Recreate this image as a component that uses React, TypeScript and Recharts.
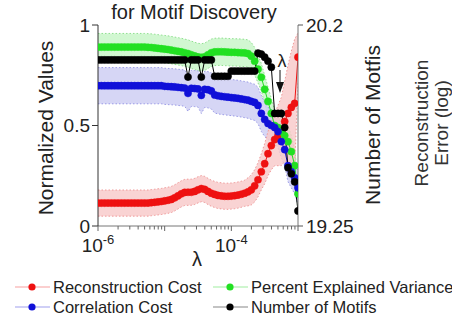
import React from 'react';
import { ComposedChart, Line, Area, XAxis, YAxis } from 'recharts';

// log10(lambda)
const lambdaExp = [
  -6.0, -5.95, -5.9, -5.85, -5.8, -5.75, -5.7, -5.65, -5.6, -5.55,
  -5.5, -5.45, -5.4, -5.35, -5.3, -5.25, -5.2, -5.15, -5.1, -5.05,
  -5.0, -4.95, -4.9, -4.85, -4.8, -4.75, -4.7, -4.65, -4.6, -4.55,
  -4.5, -4.45, -4.4, -4.35, -4.3, -4.25, -4.2, -4.15, -4.1, -4.05,
  -4.0, -3.95, -3.9, -3.85, -3.8, -3.75, -3.7, -3.65, -3.6, -3.55,
  -3.5, -3.45, -3.4, -3.35, -3.3, -3.25, -3.2, -3.15, -3.1, -3.05,
  -3.0,
];

const reconstructionCost = [
  0.114, 0.114, 0.114, 0.114, 0.114, 0.114, 0.114, 0.114, 0.114, 0.114,
  0.114, 0.114, 0.114, 0.114, 0.114, 0.114, 0.116, 0.118, 0.12, 0.122,
  0.125, 0.128, 0.132, 0.14, 0.15, 0.16, 0.167, 0.168, 0.168, 0.172,
  0.18, 0.186, 0.182, 0.172, 0.163, 0.157, 0.152, 0.15, 0.148, 0.148,
  0.149, 0.151, 0.154, 0.158, 0.163, 0.17, 0.18, 0.2, 0.23, 0.27,
  0.31, 0.36, 0.4, 0.43, 0.45, 0.47, 0.52, 0.56, 0.59, 0.61,
  0.84,
];
const reconstructionErr = [
  0.065, 0.065, 0.065, 0.065, 0.065, 0.065, 0.065, 0.065, 0.065, 0.065,
  0.065, 0.065, 0.065, 0.065, 0.065, 0.065, 0.065, 0.065, 0.065, 0.065,
  0.065, 0.065, 0.065, 0.065, 0.065, 0.065, 0.065, 0.065, 0.065, 0.065,
  0.065, 0.065, 0.065, 0.065, 0.065, 0.065, 0.065, 0.065, 0.065, 0.065,
  0.065, 0.065, 0.065, 0.065, 0.065, 0.07, 0.075, 0.08, 0.085, 0.09,
  0.1, 0.11, 0.12, 0.13, 0.15, 0.17, 0.2, 0.24, 0.28, 0.32,
  0.12,
];

const correlationCost = [
  0.698, 0.698, 0.698, 0.698, 0.698, 0.698, 0.698, 0.698, 0.698, 0.698,
  0.698, 0.698, 0.698, 0.698, 0.698, 0.698, 0.698, 0.698, 0.698, 0.698,
  0.695, 0.694, 0.693, 0.692, 0.69, 0.688, 0.686, 0.66, 0.685, 0.684,
  0.682, 0.65, 0.68, 0.678, 0.672, 0.652, 0.648, 0.645, 0.643, 0.641,
  0.639, 0.637, 0.635, 0.632, 0.629, 0.626, 0.62, 0.615, 0.6, 0.56,
  0.53, 0.51, 0.5, 0.49, 0.47, 0.42, 0.38, 0.3, 0.27, 0.24,
  0.19,
];
const correlationErr = [
  0.09, 0.09, 0.09, 0.09, 0.09, 0.09, 0.09, 0.09, 0.09, 0.09,
  0.09, 0.09, 0.09, 0.09, 0.09, 0.09, 0.09, 0.09, 0.09, 0.09,
  0.09, 0.09, 0.09, 0.09, 0.09, 0.09, 0.09, 0.09, 0.09, 0.09,
  0.09, 0.09, 0.09, 0.09, 0.09, 0.09, 0.09, 0.09, 0.09, 0.09,
  0.09, 0.09, 0.09, 0.09, 0.09, 0.09, 0.09, 0.09, 0.09, 0.09,
  0.085, 0.08, 0.08, 0.08, 0.08, 0.08, 0.08, 0.08, 0.08, 0.08,
  0.08,
];

const explainedVariance = [
  0.89, 0.89, 0.89, 0.89, 0.89, 0.89, 0.89, 0.89, 0.89, 0.89,
  0.89, 0.89, 0.89, 0.89, 0.89, 0.889, 0.888, 0.886, 0.884, 0.882,
  0.88, 0.878, 0.875, 0.872, 0.869, 0.866, 0.862, 0.858, 0.852, 0.846,
  0.841, 0.839, 0.842, 0.852, 0.862, 0.866, 0.867, 0.867, 0.866, 0.865,
  0.864, 0.864, 0.863, 0.862, 0.861, 0.858, 0.845, 0.82, 0.78, 0.74,
  0.68, 0.62, 0.56, 0.5, 0.49, 0.47, 0.45, 0.42, 0.37, 0.3,
  0.16,
];
const explainedVarianceErr = [
  0.068, 0.068, 0.068, 0.068, 0.068, 0.068, 0.068, 0.068, 0.068, 0.068,
  0.068, 0.068, 0.068, 0.068, 0.068, 0.068, 0.068, 0.068, 0.068, 0.068,
  0.068, 0.068, 0.068, 0.068, 0.068, 0.068, 0.068, 0.068, 0.068, 0.068,
  0.068, 0.068, 0.068, 0.068, 0.068, 0.068, 0.068, 0.068, 0.068, 0.068,
  0.068, 0.068, 0.068, 0.068, 0.068, 0.068, 0.068, 0.068, 0.068, 0.068,
  0.07, 0.07, 0.075, 0.075, 0.08, 0.08, 0.08, 0.08, 0.08, 0.08,
  0.08,
];

const numberOfMotifs = [
  0.826, 0.826, 0.826, 0.826, 0.826, 0.826, 0.826, 0.826, 0.826, 0.826,
  0.826, 0.826, 0.826, 0.826, 0.826, 0.826, 0.826, 0.826, 0.826, 0.826,
  0.826, 0.826, 0.826, 0.826, 0.826, 0.826, 0.826, 0.741, 0.826, 0.826,
  0.826, 0.741, 0.826, 0.826, 0.826, 0.745, 0.745, 0.745, 0.745, 0.745,
  0.771, 0.771, 0.771, 0.771, 0.771, 0.771, 0.771, 0.771, 0.86, 0.855,
  0.84, 0.82, 0.79, 0.56, 0.56, 0.56, 0.49, 0.29, 0.26, 0.22,
  0.075,
];

const leftTicks = [0, 0.5, 1];
const rightTicks = [19.25, 20.2];
const rightDomain = [19.25, 20.2];
const decades = [-6, -5, -4];
const multipliers = [1, 2, 3, 4, 5, 6, 7, 8, 9];
const labeledDecades = [-6, -4];

const xTicks: number[] = [];
decades.forEach((d) => multipliers.forEach((m) => xTicks.push(d + Math.log10(m))));
xTicks.push(-3);

const data = lambdaExp.map((x, i) => ({
  x,
  rec: reconstructionCost[i],
  recBand: [reconstructionCost[i] - reconstructionErr[i], reconstructionCost[i] + reconstructionErr[i]],
  cor: correlationCost[i],
  corBand: [correlationCost[i] - correlationErr[i], correlationCost[i] + correlationErr[i]],
  pev: explainedVariance[i],
  pevBand: [explainedVariance[i] - explainedVarianceErr[i], explainedVariance[i] + explainedVarianceErr[i]],
  mot: numberOfMotifs[i],
}));

const FONT = 'Liberation Sans, Arial, Helvetica, sans-serif';
const TXT = '#222';

const RED = '#ee1111';
const GREEN = '#22e022';
const BLUE = '#1010d8';
const BLACK = '#000';

const XTick = (props: any) => {
  const { x, y, payload } = props;
  const v = payload.value as number;
  const lab = labeledDecades.find((d) => Math.abs(d - v) < 1e-9);
  const isMajor = Math.abs(v - Math.round(v)) < 1e-9;
  return (
    <g>
      <line x1={x} x2={x} y1={y} y2={y + (isMajor ? 5 : 3.5)} stroke="#666" strokeWidth={1} />
      {lab !== undefined && (
        <text x={x} y={y + 26} textAnchor="middle" fontFamily={FONT} fontSize={19} fill={TXT}>
          <tspan>10</tspan>
          <tspan dy={-8} fontSize={13}>{String(lab)}</tspan>
        </text>
      )}
    </g>
  );
};

const legendItems = [
  { label: 'Reconstruction Cost', color: RED, line: '#f7a0a0', x: 15, y: 287 },
  { label: 'Percent Explained Variance', color: GREEN, line: '#a0eea0', x: 213, y: 287 },
  { label: 'Correlation Cost', color: BLUE, line: '#a0a0ee', x: 15, y: 307 },
  { label: 'Number of Motifs', color: BLACK, line: '#888', x: 213, y: 307 },
];

export default function App() {
  return (
    <div style={{ position: 'absolute', left: 0, top: 0, width: 452, height: 320, background: '#fff' }}>
      <ComposedChart
        width={452}
        height={320}
        data={data}
        margin={{ top: 25, right: 94, bottom: 64, left: 0 }}
      >
        <XAxis
          dataKey="x"
          type="number"
          domain={[-6, -3]}
          ticks={xTicks}
          interval={0}
          tickLine={false}
          tickSize={0}
          tickMargin={0}
          height={30}
          axisLine={{ stroke: '#777' }}
          tick={(p: any) => <XTick {...p} />}
          allowDataOverflow
        />
        <YAxis
          yAxisId="left"
          type="number"
          domain={[0, 1]}
          ticks={leftTicks}
          width={98}
          tickSize={6}
          tickMargin={2}
          allowDataOverflow
          axisLine={{ stroke: '#333' }}
          tickLine={{ stroke: '#333' }}
          tick={{ fontSize: 19, fill: TXT, fontFamily: FONT }}
          tickFormatter={(v: number) => String(v)}
        />
        <YAxis
          yAxisId="right"
          orientation="right"
          type="number"
          domain={rightDomain}
          ticks={rightTicks}
          width={60}
          tickSize={5}
          tickMargin={3}
          allowDataOverflow
          axisLine={{ stroke: '#777' }}
          tickLine={{ stroke: '#555' }}
          tick={{ fontSize: 19, fill: TXT, fontFamily: FONT }}
          tickFormatter={(v: number) => String(v)}
        />
        <Area yAxisId="left" dataKey="pevBand" type="linear" fill="#c9f6c9" fillOpacity={0.85}
          stroke="#8fe08f" strokeWidth={1} strokeDasharray="1.5 2" isAnimationActive={false} activeDot={false} />
        <Area yAxisId="left" dataKey="corBand" type="linear" fill="#cfcff3" fillOpacity={0.85}
          stroke="#9a9ae6" strokeWidth={1} strokeDasharray="1.5 2" isAnimationActive={false} activeDot={false} />
        <Area yAxisId="left" dataKey="recBand" type="linear" fill="#f8c8c8" fillOpacity={0.8}
          stroke="#f09a9a" strokeWidth={1} strokeDasharray="1.5 2" isAnimationActive={false} activeDot={false} />
        <Line yAxisId="left" dataKey="rec" type="linear" stroke={RED} strokeWidth={1}
          dot={{ r: 3.6, fill: RED, stroke: RED, strokeWidth: 0.5 }} activeDot={false} isAnimationActive={false} />
        <Line yAxisId="left" dataKey="pev" type="linear" stroke={GREEN} strokeWidth={1}
          dot={{ r: 3.6, fill: GREEN, stroke: GREEN, strokeWidth: 0.5 }} activeDot={false} isAnimationActive={false} />
        <Line yAxisId="left" dataKey="cor" type="linear" stroke={BLUE} strokeWidth={1}
          dot={{ r: 3.6, fill: BLUE, stroke: BLUE, strokeWidth: 0.5 }} activeDot={false} isAnimationActive={false} />
        <Line yAxisId="left" dataKey="mot" type="linear" stroke={BLACK} strokeWidth={1}
          dot={{ r: 3.6, fill: BLACK, stroke: BLACK, strokeWidth: 0.5 }} activeDot={false} isAnimationActive={false} />
      </ComposedChart>
      <svg
        width={452}
        height={320}
        style={{ position: 'absolute', left: 0, top: 0, pointerEvents: 'none' }}
        fontFamily={FONT}
      >
        <text x={194} y={19} textAnchor="middle" fontSize={20} fill={TXT}>for Motif Discovery</text>
        <text x={45} y={128} textAnchor="middle" dominantBaseline="central" fontSize={21} fill={TXT}
          transform="rotate(-90 45 128)">Normalized Values</text>
        <text x={372} y={125} textAnchor="middle" dominantBaseline="central" fontSize={21} fill={TXT}
          transform="rotate(-90 372 125)">Number of Motfis</text>
        <text x={421} y={123} textAnchor="middle" dominantBaseline="central" fontSize={19} fill="#333"
          transform="rotate(-90 421 123)">Reconstruction</text>
        <text x={441} y={123} textAnchor="middle" dominantBaseline="central" fontSize={19} fill="#333"
          transform="rotate(-90 441 123)">Error (log)</text>
        <text x={197} y={266} textAnchor="middle" fontSize={20} fill={TXT}>λ</text>
        {/* lambda annotation arrow */}
        <text x={282} y={67} textAnchor="middle" fontSize={18} fill={TXT}>λ</text>
        <line x1={280} x2={280} y1={70} y2={86} stroke="#111" strokeWidth={1} />
        <polygon points="276,82 284,82 280,93" fill="#111" />
        {legendItems.map((it) => (
          <g key={it.label}>
            <line x1={it.x} x2={it.x + 35} y1={it.y} y2={it.y} stroke={it.line} strokeWidth={1.2} />
            <circle cx={it.x + 17} cy={it.y} r={3.6} fill={it.color} />
            <text x={it.x + 38} y={it.y + 6} fontSize={16.5} fill={TXT}>{it.label}</text>
          </g>
        ))}
      </svg>
    </div>
  );
}
